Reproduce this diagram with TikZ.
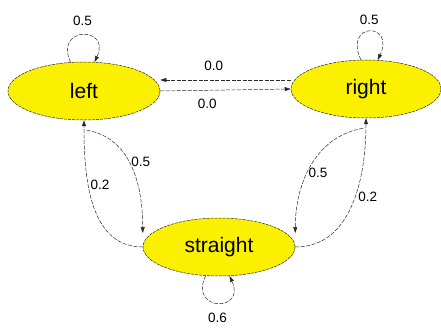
\documentclass[tikz,border=0pt]{standalone}
\usepackage{fontspec}
\setmainfont{Liberation Sans}
\usetikzlibrary{positioning,shapes.geometric,arrows.meta}
\definecolor{stfill}{HTML}{FAF000}
\definecolor{edg}{HTML}{2A2A2A}
\tikzset{
  stt/.style={ellipse, draw=edg, fill=stfill, dash pattern=on 3pt off 1pt, line width=0.5pt, inner sep=0pt, minimum width=152pt, minimum height=58pt, font=\fontsize{21}{24}\selectfont},
  tr/.style={draw=edg, line width=0.5pt, dash pattern=on 4pt off 1.5pt, -{Triangle[length=6pt, width=4pt]}},
  lbl/.style={inner sep=1pt, font=\fontsize{13.5}{15}\selectfont}}
\begin{document}
\begin{tikzpicture}[x=1pt, y=1pt]
\useasboundingbox (0,0) rectangle (441,327);
\node[stt] (lf) at (84,236) {left};
\node[stt, minimum width=150pt] (rt) at (366,238) {right};
\node[stt] (st) at (219,80) {straight};
\draw[tr] (lf.115) to[out=115, in=65, distance=40pt] node[lbl, above=8pt] {0.5} (lf.70);
\draw[tr] (rt.100) to[out=115, in=65, distance=42pt] node[lbl, above=6pt] {0.5} (rt.68);
\draw[tr] (st.-115) to[out=-115, in=-65, distance=40pt] node[lbl, below=9pt] {0.6} (st.-70);
\draw[tr] ([yshift=9pt]rt.west) -- node[lbl, pos=0.59, above=8pt] {0.0} ([yshift=11pt]lf.east);
\draw[tr] (lf.east) -- node[lbl, pos=0.36, below=8pt] {0.0} (rt.west);
\draw[tr] (st.west) to[out=180, in=-90] node[lbl, pos=0.62, right=1pt] {0.2} (lf.south);
\draw[tr] ([shift={(3,-10)}]lf.south) to[out=-10, in=90] node[lbl, pos=0.45, right=1pt] {0.5} ([yshift=14pt]st.west);
\draw[tr] (st.east) to[out=0, in=-90] node[lbl, pos=0.55, right=2pt] {0.2} (rt.south);
\draw[tr] ([shift={(-3,-10)}]rt.south) to[out=190, in=90] node[lbl, pos=0.56, right=0pt] {0.5} ([yshift=14pt]st.east);
\end{tikzpicture}
\end{document}
